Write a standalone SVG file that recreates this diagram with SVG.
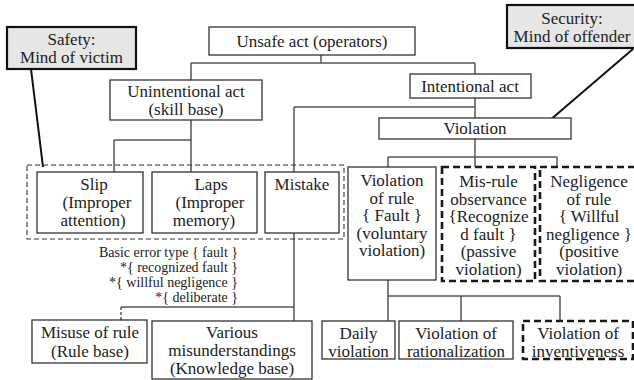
<svg xmlns="http://www.w3.org/2000/svg" width="634" height="380" viewBox="0 0 634 380">
<style>
svg text{font-family:'Liberation Serif',serif !important}
.box{fill:#fff;stroke:#333;stroke-width:1.3}
.note{fill:#e6e6e6;stroke:#111;stroke-width:2.2}
.dbox{fill:#fff;stroke:#1a1a1a;stroke-width:2.6;stroke-dasharray:7,4}
.grp{fill:none;stroke:#333;stroke-width:1.1;stroke-dasharray:5,3}
.ln{fill:none;stroke:#555;stroke-width:1.5}
.call{fill:none;stroke:#111;stroke-width:2}
</style>
<rect width="634" height="380" fill="#fff"/>
<g id="connectors">
<path class="ln" d="M321,55V63M191,63H475M191,63V80M475,63V74"/>
<path class="ln" d="M191,120V140M114,140H191M114,140V172M191,140V172"/>
<path class="ln" d="M475,98V118M294,107H475M294,107V172"/>
<path class="ln" d="M294,233V321M121,307H294"/>
<path class="ln" d="M121,307V320" stroke-dasharray="3,2"/>
<path class="ln" d="M475,139V167M388,157H557M388,157V167M557,157V167"/>
<path class="ln" d="M388,280V321M388,296H560M461,296V321M560,296V321"/>
<path class="call" d="M31,69L43,167M633,49L549,121"/>
</g>
<rect class="grp" x="27" y="165" width="317" height="74"/>
<g id="safety"><rect class="note" x="7" y="27" width="129" height="42"/></g>
<g id="security"><rect class="note" x="507" y="5" width="130" height="43"/></g>
<g id="unsafe"><rect class="box" x="209" y="27" width="206" height="28"/></g>
<g id="unintentional"><rect class="box" x="110" y="80" width="152" height="40"/></g>
<g id="intentional"><rect class="box" x="410" y="74" width="121" height="24"/></g>
<g id="violation"><rect class="box" x="379" y="118" width="192" height="21"/></g>
<g id="slip"><rect class="box" x="37" y="172" width="106" height="61"/></g>
<g id="laps"><rect class="box" x="152" y="172" width="105" height="61"/></g>
<g id="mistake"><rect class="box" x="265" y="172" width="74" height="61"/></g>
<g id="vrule"><rect class="box" x="348" y="167" width="88" height="113"/></g>
<g id="misrule"><rect class="dbox" x="442" y="167" width="93" height="114"/></g>
<g id="negligence"><rect class="dbox" x="540" y="167" width="100" height="114"/></g>
<g id="misuse"><rect class="box" x="32" y="320" width="115" height="43"/></g>
<g id="various"><rect class="box" x="152" y="321" width="160" height="58"/></g>
<g id="daily"><rect class="box" x="322" y="321" width="73" height="38"/></g>
<g id="rationalization"><rect class="box" x="399" y="321" width="114" height="38"/></g>
<g id="inventiveness"><rect class="dbox" x="523" y="321" width="110" height="38"/></g>
<g id="labels" font-family="Liberation Serif" font-size="17" fill="#222" text-anchor="middle" style="font-family:'Liberation Serif',serif">
<text style="font-family:'Liberation Serif',serif" x="71.5" y="45">Safety:</text>
<text style="font-family:'Liberation Serif',serif" x="71.5" y="63">Mind of victim</text>
<text style="font-family:'Liberation Serif',serif" x="572" y="24">Security:</text>
<text style="font-family:'Liberation Serif',serif" x="572" y="42">Mind of offender</text>
<text style="font-family:'Liberation Serif',serif" x="312" y="47">Unsafe act (operators)</text>
<text style="font-family:'Liberation Serif',serif" x="186" y="97">Unintentional act</text>
<text style="font-family:'Liberation Serif',serif" x="186" y="115">(skill base)</text>
<text style="font-family:'Liberation Serif',serif" x="470" y="92">Intentional act</text>
<text style="font-family:'Liberation Serif',serif" x="475" y="134">Violation</text>
<text style="font-family:'Liberation Serif',serif" x="94" y="190">Slip</text>
<text style="font-family:'Liberation Serif',serif" x="97" y="208">(Improper</text>
<text style="font-family:'Liberation Serif',serif" x="93" y="226">attention)</text>
<text style="font-family:'Liberation Serif',serif" x="211" y="190">Laps</text>
<text style="font-family:'Liberation Serif',serif" x="210" y="208">(Improper</text>
<text style="font-family:'Liberation Serif',serif" x="204" y="226">memory)</text>
<text style="font-family:'Liberation Serif',serif" x="302" y="190">Mistake</text>
<text style="font-family:'Liberation Serif',serif" x="392" y="186">Violation</text>
<text style="font-family:'Liberation Serif',serif" x="392" y="203.5">of rule</text>
<text style="font-family:'Liberation Serif',serif" x="392" y="221">{ Fault }</text>
<text style="font-family:'Liberation Serif',serif" x="392" y="238.5">(voluntary</text>
<text style="font-family:'Liberation Serif',serif" x="392" y="256">violation)</text>
<text style="font-family:'Liberation Serif',serif" x="488.5" y="187">Mis-rule</text>
<text style="font-family:'Liberation Serif',serif" x="488.5" y="204.5">observance</text>
<text style="font-family:'Liberation Serif',serif" x="488.5" y="222">{Recognize</text>
<text style="font-family:'Liberation Serif',serif" x="488.5" y="239.5">d fault }</text>
<text style="font-family:'Liberation Serif',serif" x="488.5" y="257">(passive</text>
<text style="font-family:'Liberation Serif',serif" x="488.5" y="274.5">violation)</text>
<text style="font-family:'Liberation Serif',serif" x="589" y="187">Negligence</text>
<text style="font-family:'Liberation Serif',serif" x="589" y="204.5">of rule</text>
<text style="font-family:'Liberation Serif',serif" x="589" y="222">{ Willful</text>
<text style="font-family:'Liberation Serif',serif" x="589" y="239.5">negligence }</text>
<text style="font-family:'Liberation Serif',serif" x="589" y="257">(positive</text>
<text style="font-family:'Liberation Serif',serif" x="589" y="274.5">violation)</text>
<text style="font-family:'Liberation Serif',serif" x="90" y="338">Misuse of rule</text>
<text style="font-family:'Liberation Serif',serif" x="90" y="357">(Rule base)</text>
<text style="font-family:'Liberation Serif',serif" x="232" y="338">Various</text>
<text style="font-family:'Liberation Serif',serif" x="232" y="356">misunderstandings</text>
<text style="font-family:'Liberation Serif',serif" x="232" y="374">(Knowledge base)</text>
<text style="font-family:'Liberation Serif',serif" x="358.5" y="339">Daily</text>
<text style="font-family:'Liberation Serif',serif" x="358.5" y="357">violation</text>
<text style="font-family:'Liberation Serif',serif" x="456" y="339">Violation of</text>
<text style="font-family:'Liberation Serif',serif" x="456" y="357">rationalization</text>
<text style="font-family:'Liberation Serif',serif" x="578" y="339">Violation of</text>
<text style="font-family:'Liberation Serif',serif" x="578" y="357">inventiveness</text>
</g>
<g id="errortypes" font-family="Liberation Serif" font-size="14" fill="#222" text-anchor="end">
<text style="font-family:'Liberation Serif',serif" x="238" y="257">Basic error type { fault }</text>
<text style="font-family:'Liberation Serif',serif" x="238" y="272">*{ recognized fault }</text>
<text style="font-family:'Liberation Serif',serif" x="238" y="287">*{ willful negligence }</text>
<text style="font-family:'Liberation Serif',serif" x="238" y="302">*{ deliberate }</text>
</g>
</svg>
